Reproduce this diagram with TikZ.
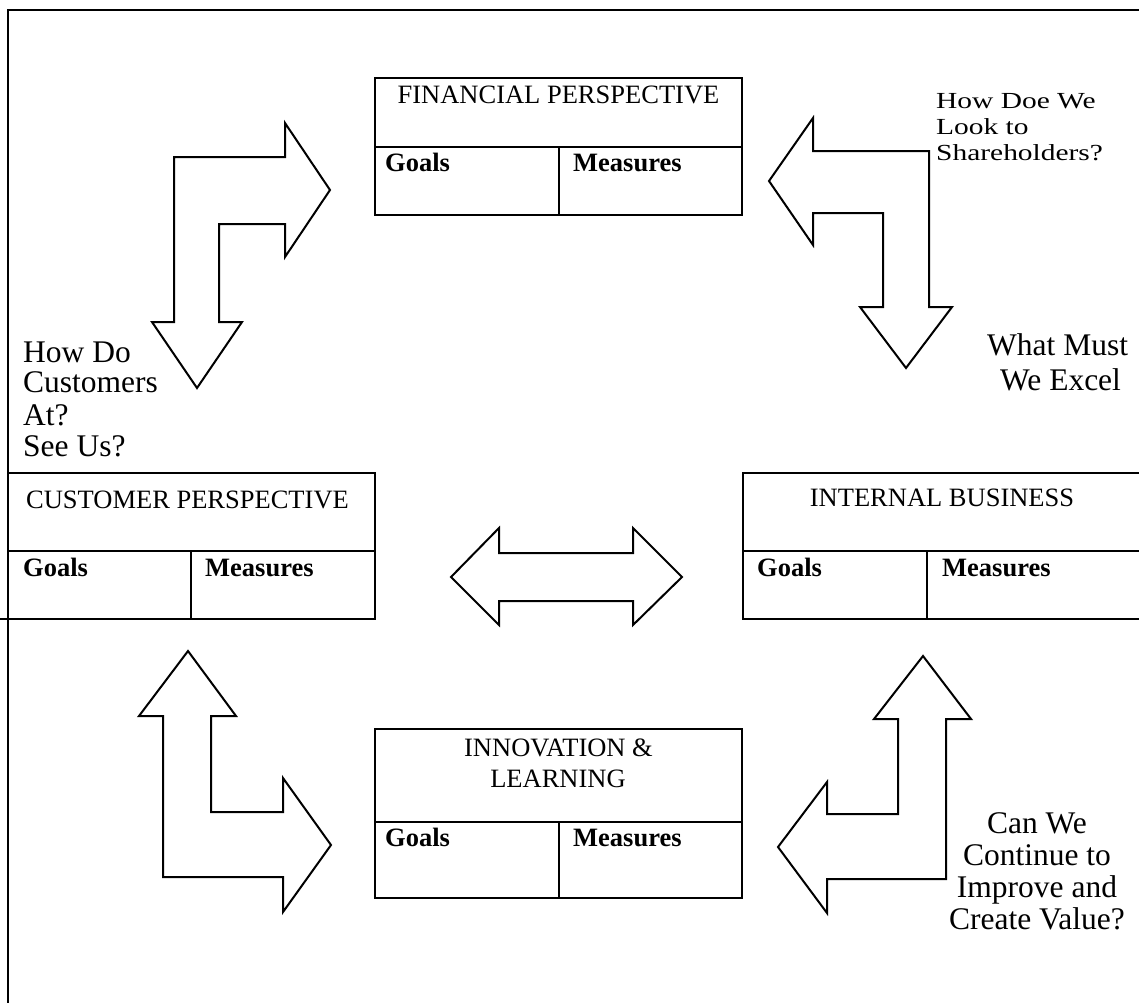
\documentclass[tikz,border=0pt]{standalone}
\usepackage{fontspec}
\setmainfont{Liberation Serif}
\usepackage{graphicx}
\begin{document}
\begin{tikzpicture}[x=1pt,y=-1pt,
  boxline/.style={line width=2.3pt},
  blockarrow/.style={draw, line width=2pt, line join=miter, fill=white},
  title/.style={font=\fontsize{26.5}{30}\selectfont, inner sep=0pt, anchor=base},
  head/.style={font=\fontsize{26.5}{30}\selectfont\bfseries, inner sep=0pt, anchor=base west},
  question/.style={font=\fontsize{31.5}{31}\selectfont, inner sep=0pt},
  small/.style={font=\fontsize{23}{26}\selectfont, inner sep=0pt, anchor=base west}]
\useasboundingbox (0,0) rectangle (1139,1002);
\clip (0,0) rectangle (1139,1002);
\fill[white] (0,0) rectangle (1139,1002);

% outer frame
\draw[line width=2pt] (8,1012) -- (8,10) -- (1150,10);

% Financial perspective
\draw[boxline] (375,78) rectangle (742,215);
\draw[boxline] (375,147) -- (742,147) (559,147) -- (559,215);
\node[title] (fintitle) at (558.5,103) {FINANCIAL PERSPECTIVE};
\node[head] (fingoals) at (385,171) {Goals};
\node[head] (finmeas) at (573,171) {Measures};

% Customer perspective
\draw[boxline] (0,619) -- (375,619) -- (375,473) -- (8,473);
\draw[boxline] (8,551) -- (375,551) (191,551) -- (191,619);
\node[title] (custitle) at (187.5,508) {CUSTOMER PERSPECTIVE};
\node[head] (cusgoals) at (23,576) {Goals};
\node[head] (cusmeas) at (205,576) {Measures};

% Internal business
\draw[boxline] (743,473) rectangle (1141,619);
\draw[boxline] (743,551) -- (1141,551) (927,551) -- (927,619);
\node[title] (inttitle) at (942,506) {INTERNAL BUSINESS};
\node[head] (intgoals) at (757,576) {Goals};
\node[head] (intmeas) at (942,576) {Measures};

% Innovation & learning
\draw[boxline] (375,729) rectangle (742,898);
\draw[boxline] (375,822) -- (742,822) (559,822) -- (559,898);
\node[title] (inntitleA) at (558.5,756) {INNOVATION \&};
\node[title] (inntitleB) at (558,787) {LEARNING};
\node[head] (inngoals) at (385,846) {Goals};
\node[head] (innmeas) at (573,846) {Measures};

% block arrows
\draw[blockarrow] (330,190) -- (285,257) -- (285,224) -- (219,224) -- (219,322)
  -- (242,322) -- (197,388) -- (152,322) -- (174,322) -- (174,157) -- (285,157)
  -- (285,123) -- cycle;
\draw[blockarrow] (769,181) -- (813,118) -- (813,151) -- (929,151) -- (929,307)
  -- (952,307) -- (906,368) -- (860,307) -- (883,307) -- (883,213) -- (813,213)
  -- (813,245) -- cycle;
\draw[blockarrow] (188,651) -- (236,716) -- (211,716) -- (211,812) -- (283,812)
  -- (283,778) -- (331,845) -- (283,912) -- (283,877) -- (163,877) -- (163,716)
  -- (139,716) -- cycle;
\draw[blockarrow] (923,656) -- (971,719) -- (946,719) -- (946,879) -- (827,879)
  -- (827,913) -- (778,847) -- (827,782) -- (827,814) -- (898,814) -- (898,719)
  -- (874,719) -- cycle;
\draw[blockarrow] (451,577) -- (499,528) -- (499,553) -- (633,553) -- (633,528)
  -- (682,577) -- (633,625) -- (633,601) -- (499,601) -- (499,625) -- cycle;

% questions
\node[small] (shA) at (936,108) {\scalebox{1.28}[1]{How Doe We}};
\node[small] (shB) at (936,134) {\scalebox{1.28}[1]{Look to}};
\node[small] (shC) at (936,160) {\scalebox{1.28}[1]{Shareholders?}};

\node[question, anchor=base west] (cuA) at (23,362) {How Do};
\node[question, anchor=base west] (cuB) at (23,392) {Customers};
\node[question, anchor=base west] (cuC) at (23,425) {At?};
\node[question, anchor=base west] (cuD) at (23,456) {See Us?};

\node[question, anchor=base west] (exA) at (987,355) {What Must};
\node[question, anchor=base west] (exB) at (1000,390) {We Excel};

\node[question, anchor=base] (imA) at (1037,833) {Can We};
\node[question, anchor=base] (imB) at (1037,865) {Continue to};
\node[question, anchor=base] (imC) at (1037,897) {Improve and};
\node[question, anchor=base] (imD) at (1037,929) {Create Value?};
\end{tikzpicture}
\end{document}
